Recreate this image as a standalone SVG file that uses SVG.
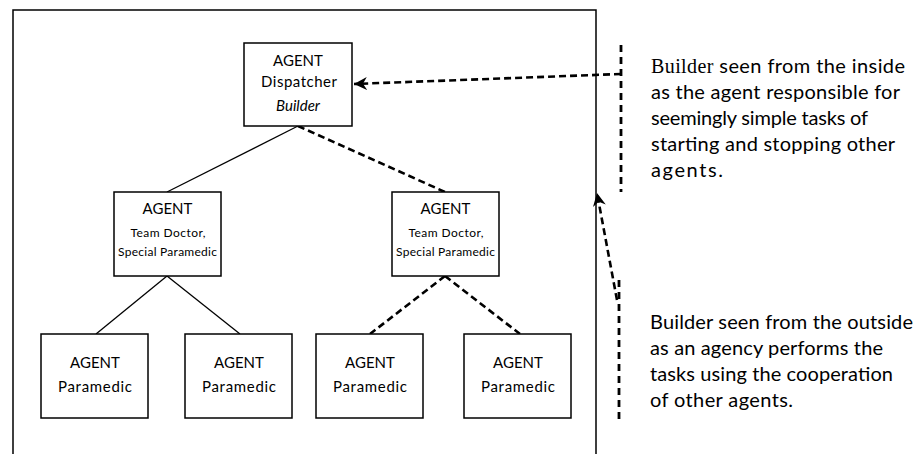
<svg xmlns="http://www.w3.org/2000/svg" width="923" height="454" viewBox="0 0 923 454">
<style>
.box{fill:#fff;stroke:#000;stroke-width:1.5}
.t{font-family:Lato,"Open Sans","Liberation Sans",sans-serif;fill:#000;text-anchor:middle}
.big{font-size:15px}
.sm{font-size:12px}
.note{font-family:Lato,"Open Sans","Liberation Sans",sans-serif;font-size:20px;fill:#000}
.solid{fill:none;stroke:#000;stroke-width:1.3}
.dash{fill:none;stroke:#000;stroke-width:2.6;stroke-dasharray:7 4}
.vdash{fill:none;stroke:#000;stroke-width:2.8;stroke-dasharray:7 5}
</style>
<defs>
<marker id="ah" viewBox="0 0 14 14" refX="13" refY="7" markerWidth="14" markerHeight="14" markerUnits="userSpaceOnUse" orient="auto">
<path d="M13,7 L0,0.5 L4,7 L0,13.5 Z" fill="#000"/>
</marker>
</defs>
<g id="frame">
<path d="M13,454 L13,10 L596,10 L596,454" fill="none" stroke="#000" stroke-width="1.5"/>
</g>
<g id="connectors">
<line class="solid" x1="298" y1="126" x2="167" y2="192"/>
<line class="dash" x1="298" y1="126" x2="445" y2="192"/>
<line class="solid" x1="167" y1="276" x2="96" y2="334"/>
<line class="solid" x1="167" y1="276" x2="240" y2="334"/>
<line class="dash" x1="445" y1="276" x2="370" y2="334"/>
<line class="dash" x1="445" y1="276" x2="520" y2="334"/>
<line class="vdash" x1="621" y1="45" x2="621" y2="192"/>
<line class="dash" x1="621" y1="74" x2="354" y2="84" marker-end="url(#ah)"/>
<line class="vdash" x1="619" y1="280" x2="619" y2="422"/>
<line class="dash" x1="617" y1="300" x2="597" y2="193" marker-end="url(#ah)"/>
</g>
<g id="dispatcher">
<rect class="box" x="244" y="43" width="108" height="83"/>
<text class="t big" x="298" y="66">AGENT</text>
<text class="t big" x="299" y="87" textLength="76">Dispatcher</text>
<text class="t big" x="298" y="111" font-style="italic">Builder</text>
</g>
<g id="doctor-left">
<rect class="box" x="114" y="192" width="107" height="84"/>
<text class="t big" x="167.5" y="214">AGENT</text>
<text class="t sm" x="168" y="237" textLength="75">Team Doctor,</text>
<text class="t sm" x="167.5" y="256" textLength="99">Special Paramedic</text>
</g>
<g id="doctor-right">
<rect class="box" x="392" y="192" width="107" height="84"/>
<text class="t big" x="445.5" y="214">AGENT</text>
<text class="t sm" x="446" y="237" textLength="75">Team Doctor,</text>
<text class="t sm" x="445.5" y="256" textLength="99">Special Paramedic</text>
</g>
<g id="paramedic-1">
<rect class="box" x="41" y="334" width="107" height="84"/>
<text class="t big" x="95" y="368">AGENT</text>
<text class="t big" x="95" y="392" textLength="74">Paramedic</text>
</g>
<g id="paramedic-2">
<rect class="box" x="185" y="334" width="107" height="84"/>
<text class="t big" x="239" y="368">AGENT</text>
<text class="t big" x="239" y="392" textLength="74">Paramedic</text>
</g>
<g id="paramedic-3">
<rect class="box" x="316" y="334" width="107" height="84"/>
<text class="t big" x="370" y="368">AGENT</text>
<text class="t big" x="370" y="392" textLength="74">Paramedic</text>
</g>
<g id="paramedic-4">
<rect class="box" x="464" y="334" width="107" height="84"/>
<text class="t big" x="518" y="368">AGENT</text>
<text class="t big" x="518" y="392" textLength="74">Paramedic</text>
</g>
<g id="note-inside">
<text class="note" x="651" y="73" textLength="254"><tspan font-family="'Liberation Serif',serif">Builder</tspan>  seen from the inside</text>
<text class="note" x="651" y="99" textLength="249">as the agent responsible for</text>
<text class="note" x="651" y="125" textLength="217">seemingly simple tasks of</text>
<text class="note" x="651" y="151" textLength="244">starting and stopping other</text>
<text class="note" x="651" y="177" textLength="72">agents.</text>
</g>
<g id="note-outside">
<text class="note" x="650" y="329" textLength="263">Builder seen from the outside</text>
<text class="note" x="650" y="355" textLength="233">as an agency performs the</text>
<text class="note" x="650" y="381" textLength="243">tasks using the cooperation</text>
<text class="note" x="650" y="407" textLength="143">of other agents.</text>
</g>
</svg>
